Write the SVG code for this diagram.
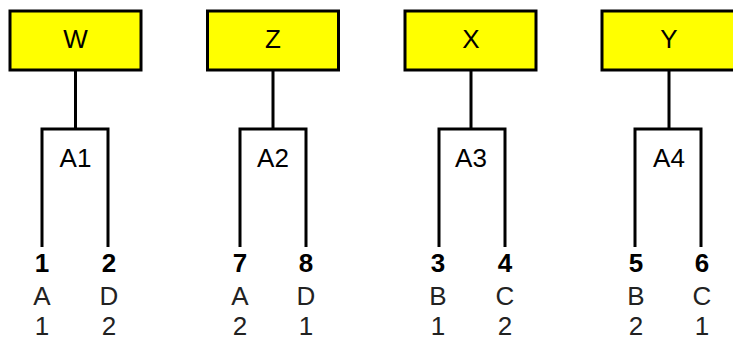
<svg xmlns="http://www.w3.org/2000/svg" width="733" height="337" viewBox="0 0 733 337">
<style>
.box{fill:#ffff00;stroke:#000;stroke-width:3}
.ln{fill:none;stroke:#000;stroke-width:3}
text{font-family:"Liberation Sans",Arial,sans-serif;font-size:26px;fill:#000;text-anchor:middle}
.b{font-weight:bold}
.g{fill:#222}
</style>
<rect width="733" height="337" fill="#fff"/>
<text x="-6" y="179">)</text>
<g id="connectors">
<path class="ln" d="M75.5 70V129M42 247V129H108V247"/>
<path class="ln" d="M273 70V129M240 247V129H306V247"/>
<path class="ln" d="M471 70V129M439 247V129H505V247"/>
<path class="ln" d="M669 70V129M635 247V129H701V247"/>
</g>
<g id="W"><rect class="box" x="10" y="11" width="131" height="59"/><text x="75.5" y="48">W</text></g>
<g id="Z"><rect class="box" x="207.5" y="11" width="131" height="59"/><text x="273" y="48">Z</text></g>
<g id="X"><rect class="box" x="405" y="11" width="131" height="59"/><text x="471" y="48">X</text></g>
<g id="Y"><rect class="box" x="602" y="11" width="135" height="59"/><text x="669" y="48">Y</text></g>
<g id="A1"><text x="75.5" y="167">A1</text>
<text class="b" x="42" y="272">1</text><text class="b" x="109" y="272">2</text>
<text class="g" x="42" y="305">A</text><text class="g" x="109" y="305">D</text>
<text class="g" x="42" y="335">1</text><text class="g" x="109" y="335">2</text></g>
<g id="A2"><text x="273" y="167">A2</text>
<text class="b" x="240" y="272">7</text><text class="b" x="306" y="272">8</text>
<text class="g" x="240" y="305">A</text><text class="g" x="306" y="305">D</text>
<text class="g" x="240" y="335">2</text><text class="g" x="306" y="335">1</text></g>
<g id="A3"><text x="471" y="167">A3</text>
<text class="b" x="438" y="272">3</text><text class="b" x="505" y="272">4</text>
<text class="g" x="438" y="305">B</text><text class="g" x="505" y="305">C</text>
<text class="g" x="438" y="335">1</text><text class="g" x="505" y="335">2</text></g>
<g id="A4"><text x="669" y="167">A4</text>
<text class="b" x="636" y="272">5</text><text class="b" x="702" y="272">6</text>
<text class="g" x="636" y="305">B</text><text class="g" x="702" y="305">C</text>
<text class="g" x="636" y="335">2</text><text class="g" x="702" y="335">1</text></g>
</svg>
